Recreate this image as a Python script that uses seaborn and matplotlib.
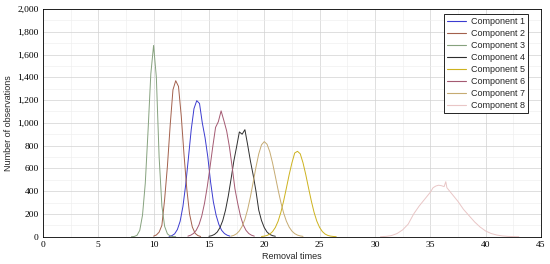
import numpy as np
import pandas as pd
import matplotlib
matplotlib.use("Agg")
import matplotlib.pyplot as plt
import seaborn as sns
from matplotlib.lines import Line2D
from matplotlib.ticker import MultipleLocator, FuncFormatter

# Histogram traces (removal time vs. count)
components = ["Component 1", "Component 2", "Component 3", "Component 4",
              "Component 5", "Component 6", "Component 7", "Component 8"]

# Component 1 - blue, peak near 14
x1 = [11.4, 11.65, 11.9, 12.15, 12.4, 12.65, 12.9, 13.15, 13.4, 13.65, 13.9, 14.15,
      14.4, 14.65, 14.9, 15.15, 15.4, 15.65, 15.9, 16.15, 16.4, 16.65, 16.9]
y1 = [3, 9, 25, 63, 136, 265, 455, 694, 940, 1125, 1195, 1170,
      1000, 870, 700, 480, 307, 188, 107, 56, 28, 13, 5]

# Component 2 - brown, peak near 12
x2 = [10.0, 10.25, 10.5, 10.75, 11.0, 11.25, 11.5, 11.75, 12.0, 12.25, 12.5, 12.75,
      13.0, 13.25, 13.5, 13.75, 14.0, 14.25]
y2 = [5, 15, 40, 100, 330, 620, 980, 1290, 1370, 1320, 1060, 720,
      420, 200, 85, 30, 10, 2]

# Component 3 - green, peak near 10
x3 = [8.0, 8.25, 8.5, 8.75, 9.0, 9.25, 9.5, 9.75, 10.0, 10.25, 10.5, 10.75,
      11.0, 11.25, 11.5, 11.75, 12.0]
y3 = [0, 2, 12, 55, 190, 470, 930, 1430, 1680, 1400, 700, 270,
      90, 25, 6, 1, 0]

# Component 4 - black, peak near 18
x4 = [15.0, 15.25, 15.5, 15.75, 16.0, 16.25, 16.5, 16.75, 17.0, 17.25, 17.5, 17.75,
      18.0, 18.25, 18.5, 18.75, 19.0, 19.25, 19.5, 19.75, 20.0, 20.25, 20.5, 20.75, 21.0]
y4 = [4, 9, 20, 41, 80, 142, 234, 358, 507, 664, 790, 920,
      900, 940, 806, 664, 540, 400, 234, 142, 80, 41, 20, 9, 4]

# Component 5 - yellow, peak near 23
x5 = [19.75, 20.0, 20.25, 20.5, 20.75, 21.0, 21.25, 21.5, 21.75, 22.0, 22.25, 22.5,
      22.75, 23.0, 23.25, 23.5, 23.75, 24.0, 24.25, 24.5, 24.75, 25.0, 25.25, 25.5,
      25.75, 26.0, 26.25, 26.5]
y5 = [2, 5, 11, 23, 45, 81, 136, 214, 314, 428, 545, 649,
      735, 750, 728, 649, 545, 428, 314, 214, 136, 81, 45, 23,
      11, 5, 2, 0]

# Component 6 - mauve, peak near 16
x6 = [13.1, 13.35, 13.6, 13.85, 14.1, 14.35, 14.6, 14.85, 15.1, 15.35, 15.6, 15.85,
      16.1, 16.35, 16.6, 16.85, 17.1, 17.35, 17.6, 17.85, 18.1, 18.35, 18.6, 18.85, 19.1]
y6 = [5, 13, 28, 56, 104, 181, 293, 439, 612, 793, 960, 1010,
      1105, 1020, 930, 790, 612, 420, 293, 181, 104, 56, 28, 13, 5]

# Component 7 - tan, peak near 20
x7 = [17.0, 17.25, 17.5, 17.75, 18.0, 18.25, 18.5, 18.75, 19.0, 19.25, 19.5, 19.75,
      20.0, 20.25, 20.5, 20.75, 21.0, 21.25, 21.5, 21.75, 22.0, 22.25, 22.5, 22.75,
      23.0, 23.25, 23.5]
y7 = [5, 12, 26, 51, 91, 153, 240, 351, 480, 611, 727, 807,
      835, 812, 746, 647, 530, 411, 301, 208, 136, 84, 49, 27,
      14, 7, 3]

# Component 8 - light pink, peak near 36
x8 = [30.5, 31.0, 31.5, 32.0, 32.5, 33.0, 33.5, 34.0, 34.5, 35.0, 35.25, 35.5,
      35.75, 36.0, 36.25, 36.4, 36.5, 37.0, 37.5, 38.0, 38.5, 39.0, 39.5, 40.0,
      40.5, 41.0, 41.5, 42.0, 42.5, 43.0]
y8 = [0, 3, 10, 28, 60, 110, 200, 270, 330, 390, 430, 445,
      452, 448, 440, 483, 430, 370, 310, 240, 185, 130, 85, 50,
      28, 15, 7, 3, 1, 0]

palette = {
    "Component 1": "#3b3bd0",
    "Component 2": "#a3604c",
    "Component 3": "#86a27e",
    "Component 4": "#2e2e2e",
    "Component 5": "#cdb21e",
    "Component 6": "#a45a72",
    "Component 7": "#c6ab72",
    "Component 8": "#e9c6c6",
}

xs = [x1, x2, x3, x4, x5, x6, x7, x8]
ys = [y1, y2, y3, y4, y5, y6, y7, y8]
df = pd.concat(
    [pd.DataFrame({"time": x, "count": y, "component": name})
     for name, x, y in zip(components, xs, ys)],
    ignore_index=True,
)

sns.set_theme(style="whitegrid")
plt.rcParams['font.family'] = ['Liberation Sans', 'DejaVu Sans']

fig, ax = plt.subplots(figsize=(5.5, 2.64), dpi=100)
fig.subplots_adjust(left=0.078, right=0.9836, top=0.966, bottom=0.1034)
ax.set_facecolor("white")

for name in components:
    sub = df[df["component"] == name]
    sns.lineplot(data=sub, x="time", y="count", color=palette[name], lw=0.7,
                 ax=ax, sort=False, estimator=None, legend=False)

ax.set_xlim(0, 45)
ax.set_ylim(0, 2000)
ax.xaxis.set_major_locator(MultipleLocator(5))
ax.xaxis.set_minor_locator(MultipleLocator(2.5))
ax.yaxis.set_major_locator(MultipleLocator(200))
ax.yaxis.set_minor_locator(MultipleLocator(100))
ax.yaxis.set_major_formatter(FuncFormatter(lambda v, p: f"{int(v):,}"))

ax.grid(which="major", color="#d2d2d2", lw=0.5)
ax.grid(which="minor", color="#ededed", lw=0.4)
ax.set_axisbelow(True)

ax.tick_params(which="both", direction="in", length=0, pad=3,
               labelsize=6.8, labelfontfamily="Liberation Serif", colors="black")

for sp in ax.spines.values():
    sp.set_color("black")
    sp.set_linewidth(0.6)

ax.set_xlabel("Removal times", fontsize=6.5, labelpad=2)
ax.set_ylabel("Number of observations", fontsize=6.5, labelpad=3)

handles = [Line2D([0], [0], color=palette[name], lw=0.8) for name in components]
leg = ax.legend(handles, components, loc="upper right", bbox_to_anchor=(0.974, 0.978),
                borderaxespad=0, fontsize=6.5, frameon=True, fancybox=False, framealpha=1,
                handlelength=2.1, handletextpad=0.5, labelspacing=0.33, borderpad=0.35)
leg.get_frame().set_edgecolor("black")
leg.get_frame().set_linewidth(0.6)

plt.savefig("out.png", dpi=100)
